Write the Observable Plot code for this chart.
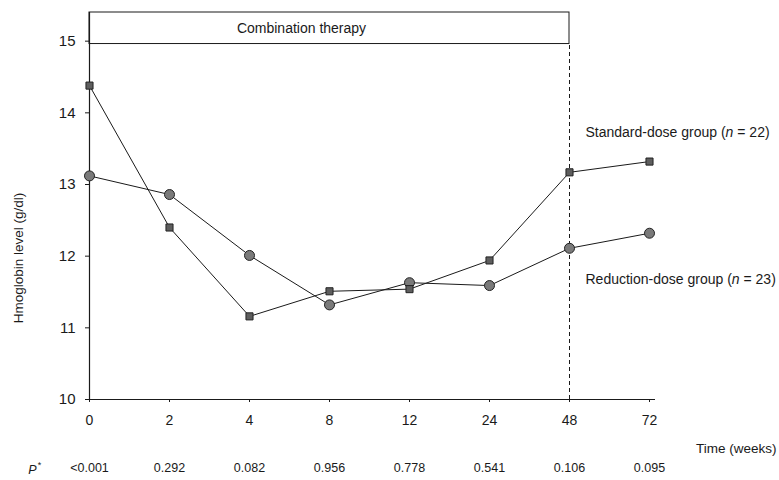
<!DOCTYPE html>
<html>
<head>
<meta charset="utf-8">
<script src="https://cdn.jsdelivr.net/npm/d3@7"></script>
<script src="https://cdn.jsdelivr.net/npm/@observablehq/plot@0.6"></script>
<style>
  html, body { margin: 0; padding: 0; background: #fff; }
</style>
</head>
<body>
<div id="chart"></div>
<script>
// Time points (weeks), categorical
const times = ["0", "2", "4", "8", "12", "24", "48", "72"];
// Hemoglobin (g/dl)
const standardDose = [14.38, 12.40, 11.16, 11.51, 11.54, 11.94, 13.17, 13.32];
const reductionDose = [13.12, 12.86, 12.01, 11.32, 11.63, 11.59, 12.11, 12.32];
// P values per time point
const pValues = ["<0.001", "0.292", "0.082", "0.956", "0.778", "0.541", "0.106", "0.095"];
const yTicks = [10, 11, 12, 13, 14, 15];
const seriesLabels = ["Standard-dose group (n = 22)", "Reduction-dose group (n = 23)"];

const std = times.map((t, i) => ({time: t, value: standardDose[i]}));
const red = times.map((t, i) => ({time: t, value: reductionDose[i]}));
const pMap = Object.fromEntries(times.map((t, i) => [t, pValues[i]]));

const ink = "#1a1a1a";
const font = "'Liberation Sans', Arial, sans-serif";

const chart = Plot.plot({
  width: 779,
  height: 480,
  marginLeft: 89,
  marginRight: 124,
  marginTop: 12,
  marginBottom: 81,
  style: {fontFamily: font, fontSize: "13px", color: ink, background: "#fff"},
  x: {type: "point", domain: times, padding: 0, insetRight: 6},
  y: {domain: [10, 15.4]},
  marks: [
    // therapy box
    Plot.rect([0], {x1: () => "0", x2: () => "48", y1: 14.96, y2: 15.4, fill: "#fff", stroke: ink, strokeWidth: 1}),
    Plot.text(["Combination therapy"], {x: () => "4", y: 15.18, text: d => d, dx: 52, fontSize: 14, fill: ink}),
    // dashed end-of-therapy line
    Plot.ruleX(["48"], {y1: 10, y2: 14.96, stroke: ink, strokeDasharray: "4,3"}),
    // axes lines
    Plot.ruleX(["0"], {y1: 10, y2: 15.4, stroke: ink, strokeWidth: 1.2}),
    Plot.ruleY([10], {stroke: ink, strokeWidth: 1.2}),
    Plot.axisY({ticks: yTicks, tickFormat: d => String(d), tickSize: 4, tickPadding: 10, fontSize: 15, label: null, stroke: ink}),
    Plot.axisX({tickSize: 3, tickPadding: 13, fontSize: 14, label: null, stroke: ink}),
    Plot.axisX({tickSize: 0, tickPadding: 64, fontSize: 12.5, label: null, tickFormat: d => pMap[d]}),
    // series lines
    Plot.line(std, {x: "time", y: "value", stroke: ink, strokeWidth: 1}),
    Plot.line(red, {x: "time", y: "value", stroke: ink, strokeWidth: 1}),
    Plot.dot(red, {x: "time", y: "value", r: 5, symbol: "circle", fill: "#7a7a7a", stroke: "#222", strokeWidth: 1}),
    Plot.dot(std, {x: "time", y: "value", r: 4, symbol: "square", fill: "#5e5e5e", stroke: "#222", strokeWidth: 1}),
    // series labels
    Plot.text([seriesLabels[0]], {x: () => "48", y: 13.72, text: d => d, textAnchor: "start", dx: 16, fontSize: 14, fill: ink, className: "series-label"}),
    Plot.text([seriesLabels[1]], {x: () => "48", y: 11.67, text: d => d, textAnchor: "start", dx: 16, fontSize: 14, fill: ink, className: "series-label"}),
    // axis titles
    Plot.text(["Time (weeks)"], {x: () => "72", y: 10, text: d => d, textAnchor: "end", dx: 127, dy: 49, fontSize: 13.5, fill: ink}),
    Plot.text(["Hmoglobin level (g/dl)"], {frameAnchor: "left", textAnchor: "middle", text: d => d, rotate: -90, dx: -71, dy: 52, fontSize: 13.5, fill: ink}),
    Plot.text(["P"], {x: () => "0", y: 10, text: d => d, dx: -57, dy: 70, fontStyle: "italic", fontSize: 12.5, fill: ink}),
    Plot.text(["*"], {x: () => "0", y: 10, text: d => d, dx: -50, dy: 66, fontSize: 9, fill: ink})
  ]
});

// italicise the "n" inside the series labels
d3.select(chart).selectAll("g.series-label text").each(function () {
  const s = this.textContent;
  const m = s.match(/^(.*\()n( = .*)$/);
  if (!m) return;
  const t = d3.select(this);
  t.text(null);
  t.append("tspan").text(m[1]);
  t.append("tspan").attr("font-style", "italic").text("n");
  t.append("tspan").text(m[2]);
});

document.getElementById("chart").appendChild(chart);
</script>
</body>
</html>
